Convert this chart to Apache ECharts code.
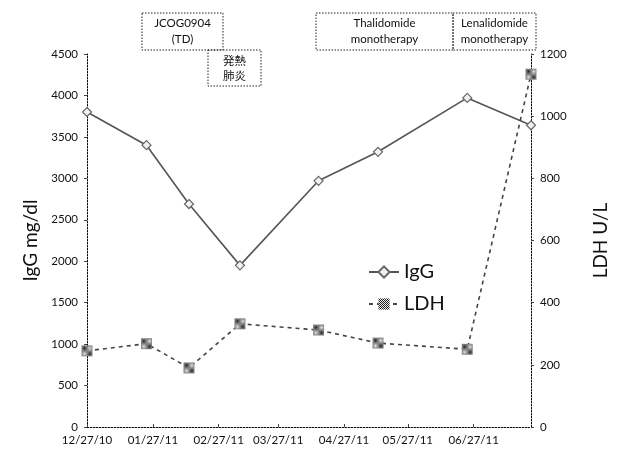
<!DOCTYPE html>
<html>
<head>
<meta charset="utf-8">
<script src="https://cdn.jsdelivr.net/npm/echarts@6/dist/echarts.min.js"></script>
<style>html,body{margin:0;padding:0;background:#fff}#c{width:632px;height:450px}</style>
</head>
<body>
<div id="c"></div>
<script>
// ---- data ----
const dates = ['2010-12-27','2011-01-24','2011-02-13','2011-03-09','2011-04-15','2011-05-13','2011-06-24','2011-07-24'];
const igg = [3800, 3400, 2690, 1950, 2970, 3320, 3970, 3640];
const ldh = [245, 268, 190, 332, 312, 270, 250, 1135];
const tickDates = ['2010-12-27','2011-01-27','2011-02-27','2011-03-27','2011-04-27','2011-05-27','2011-06-27'];
const tickLabels = ['12/27/10','01/27/11','02/27/11','03/27/11','04/27/11','05/27/11','06/27/11'];
const xMin = '2010-12-27', xMax = '2011-07-24';

// days since 2010-12-27 (UTC, exact day counts)
function day(s){ const p = s.split('-').map(Number); return Math.round((Date.UTC(p[0], p[1]-1, p[2]) - Date.UTC(2010, 11, 27)) / 86400000); }
const tickDays = tickDates.map(day);

function checker(){
  const c = document.createElement('canvas'); c.width = c.height = 2;
  const g = c.getContext('2d');
  g.fillStyle = '#e8e8e8'; g.fillRect(0,0,2,2);
  g.fillStyle = '#222'; g.fillRect(0,0,1,1); g.fillRect(1,1,1,1);
  return c;
}

const font = 'Lato';
const chart = echarts.init(document.getElementById('c'));
const dotted = {show:true, lineStyle:{color:'#000', width:1, type:[1.5,1.5]}};
const plain = v => String(v);

function box(x, y, w, h, lines, ff){
  return [
    {type:'rect', shape:{x:x, y:y, width:w, height:h}, style:{fill:null, stroke:'#222', lineWidth:1, lineDash:[1.5,1.5]}},
    {type:'text', x:x + w/2, y:y + h/2, style:{text:lines, align:'center', verticalAlign:'middle', fontFamily:ff || font, fontSize:11.5, lineHeight:15.5, fill:'#111'}}
  ];
}

chart.setOption({
  animation:false,
  backgroundColor:'#fff',
  grid:{left:87, right:101, top:54, bottom:23, containLabel:false},
  legend:{
    orient:'vertical', left:368, top:262, padding:0, itemWidth:30, itemHeight:14, itemGap:12,
    textStyle:{fontFamily:font, fontSize:20, color:'#111'},
    data:['IgG','LDH']
  },
  xAxis:{
    type:'value', min:day(xMin), max:day(xMax),
    axisLine:dotted,
    axisTick:{show:true, inside:true, length:3, lineStyle:{color:'#444'}, customValues:tickDays},
    axisLabel:{customValues:tickDays, fontFamily:font, fontSize:11.5, color:'#111', margin:7,
      formatter:function(v){ const i = tickDays.indexOf(v); return i >= 0 ? tickLabels[i] : ''; }},
    splitLine:{show:false}
  },
  yAxis:[
    {type:'value', min:0, max:4500, interval:500, position:'left',
     name:'IgG mg/dl', nameLocation:'middle', nameGap:44, nameRotate:90,
     nameTextStyle:{fontFamily:font, fontSize:19, color:'#111'},
     axisLine:dotted, axisTick:{show:true, length:3, lineStyle:{color:'#444'}},
     axisLabel:{fontFamily:font, fontSize:11.5, color:'#111', margin:9, formatter:plain},
     splitLine:{show:false}},
    {type:'value', min:0, max:1200, interval:200, position:'right',
     name:'LDH U/L', nameLocation:'middle', nameGap:60, nameRotate:90,
     nameTextStyle:{fontFamily:font, fontSize:19, color:'#111'},
     axisLine:dotted, axisTick:{show:true, length:3, lineStyle:{color:'#444'}},
     axisLabel:{fontFamily:font, fontSize:11.5, color:'#111', margin:9, formatter:plain},
     splitLine:{show:false}}
  ],
  series:[
    {name:'IgG', type:'line', yAxisIndex:0,
     data:dates.map((d,i)=>[day(d), igg[i]]),
     symbol:'diamond', symbolSize:9, showAllSymbol:true,
     lineStyle:{color:'#555', width:1.6},
     itemStyle:{color:'#f2f2f2', borderColor:'#666', borderWidth:1.2}},
    {name:'LDH', type:'line', yAxisIndex:1,
     data:dates.map((d,i)=>[day(d), ldh[i]]),
     symbol:'rect', symbolSize:11, showAllSymbol:true,
     lineStyle:{color:'#444', width:1.6, type:[4,4]},
     itemStyle:{color:{image:checker(), repeat:'repeat'}, borderWidth:0}}
  ],
  graphic:[].concat(
    box(142, 13, 81, 37, 'JCOG0904\n(TD)'),
    box(208, 50, 53, 36, '発熱\n肺炎', 'Noto Sans CJK JP'),
    box(316, 13, 137, 37, 'Thalidomide\nmonotherapy'),
    box(453, 13, 83, 37, 'Lenalidomide\nmonotherapy')
  )
});
</script>
</body>
</html>
